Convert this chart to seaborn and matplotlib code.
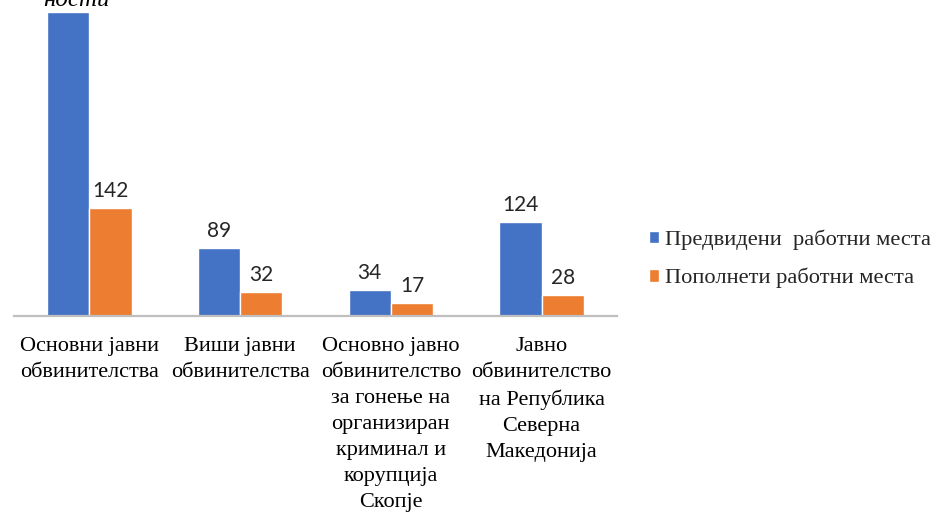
import matplotlib
matplotlib.use("Agg")
import matplotlib.pyplot as plt
import seaborn as sns
import pandas as pd

categories = [
    "Основни јавни\nобвинителства",
    "Виши јавни\nобвинителства",
    "Основно јавно\nобвинителство\nза гонење на\nорганизиран\nкриминал и\nкорупција\nСкопје",
    "Јавно\nобвинителство\nна Република\nСеверна\nМакедонија",
]
series = ["Предвидени  работни места", "Пополнети работни места"]
planned = [400, 89, 34, 124]   # first bar's label is hidden above the picture, height estimated
filled = [142, 32, 17, 28]
colors = ["#4472C4", "#ED7D31"]

df = pd.DataFrame({
    "cat": categories * 2,
    "val": planned + filled,
    "series": [series[0]] * 4 + [series[1]] * 4,
})

sns.set_theme(style="white")
plt.rcParams["font.family"] = ["Liberation Serif", "DejaVu Serif"]
serif = ["Liberation Serif", "DejaVu Serif"]

fig = plt.figure(figsize=(9.36, 5.13), dpi=100)
ax = fig.add_axes([14 / 936, 1 - 316 / 513, 603 / 936, 316 / 513])

sns.barplot(data=df, x="cat", y="val", hue="series", palette=colors,
            width=0.56, saturation=1, ax=ax, legend=True)

for k, c in enumerate(ax.containers):
    vals = planned if k == 0 else filled
    labs = ["" if (k == 0 and i == 0) else str(v) for i, v in enumerate(vals)]
    ax.bar_label(c, labels=labs, padding=5, fontsize=15, family="Lato", color="#262626")

ax.set_xlim(-0.5, 3.5)
ax.set_ylim(0, 416)
ax.set_xlabel("")
ax.set_ylabel("")
ax.set_yticks([])
ax.tick_params(axis="x", length=0, pad=15, colors="#000000")
for lbl in ax.get_xticklabels():
    lbl.set_fontfamily(serif)
    lbl.set_fontsize(16)
    lbl.set_linespacing(1.5)
for s in ["top", "left", "right"]:
    ax.spines[s].set_visible(False)
ax.spines["bottom"].set_color("#BFBFBF")
ax.spines["bottom"].set_linewidth(1.6)

handles, labels = ax.get_legend_handles_labels()
ax.legend(handles, labels, loc="center left", bbox_to_anchor=(649 / 936, 1 - 259 / 513),
          bbox_transform=fig.transFigure, frameon=False, borderpad=0, borderaxespad=0,
          prop={"family": serif, "size": 16.2},
          handlelength=0.45, handleheight=0.45, handletextpad=0.25, labelspacing=0.8)

# caption of the source document, mostly cut off at the top edge
fig.text(110 / 936, 1.0, "ности", ha="right", va="center", style="italic",
         fontsize=18, family=serif, color="#000000")

fig.savefig("out.png", dpi=100)
